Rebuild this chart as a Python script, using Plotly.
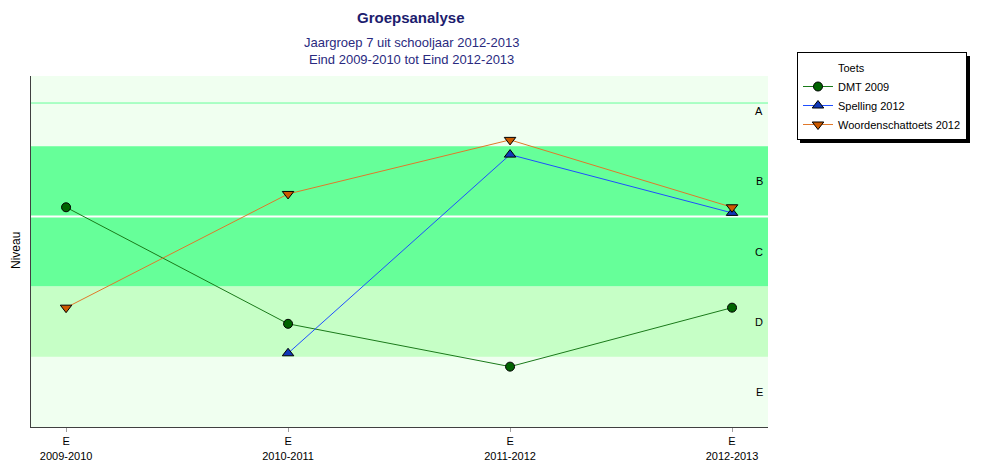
import plotly.graph_objects as go

# ---- data ----
categories = ["2009-2010", "2010-2011", "2011-2012", "2012-2013"]
tick_labels = ["E<br>2009-2010", "E<br>2010-2011", "E<br>2011-2012", "E<br>2012-2013"]
dmt_2009 = [3.13, 1.47, 0.86, 1.70]
spelling_2012 = [None, 1.05, 3.88, 3.05]
woordenschat_2012 = [1.70, 3.32, 4.09, 3.13]
level_labels = ["E", "D", "C", "B", "A"]
level_centers = [0.5, 1.5, 2.5, 3.5, 4.5]

W, H = 984, 469
ML, MR, MT, MB = 31, 216, 76, 42
PW = W - ML - MR
PH = H - MT - MB

FONT = "Arial, Liberation Sans, sans-serif"


def px_x(px):
    return (px - ML) / PW


def px_y(py):
    return (H - py - MB) / PH


fig = go.Figure()

# invisible entry used as legend heading
fig.add_trace(go.Scatter(x=[None], y=[None], mode="lines", name="Toets",
                         line=dict(width=0, color="rgba(0,0,0,0)"), hoverinfo="skip"))
fig.add_trace(go.Scatter(x=categories, y=dmt_2009, mode="lines+markers", name="DMT 2009",
                         line=dict(color="#1A7A1A", width=1),
                         marker=dict(symbol="circle", size=9, color="#006400",
                                     line=dict(color="#000000", width=1))))
fig.add_trace(go.Scatter(x=categories, y=spelling_2012, mode="lines+markers", name="Spelling 2012",
                         line=dict(color="#1F4FFF", width=1),
                         marker=dict(symbol="triangle-up", size=10, color="#1038B8",
                                     line=dict(color="#000000", width=1))))
fig.add_trace(go.Scatter(x=categories, y=woordenschat_2012, mode="lines+markers",
                         name="Woordenschattoets 2012",
                         line=dict(color="#E0782A", width=1),
                         marker=dict(symbol="triangle-down", size=10, color="#CC5A00",
                                     line=dict(color="#000000", width=1))))

shapes = [
    dict(type="rect", xref="paper", yref="y", x0=0, x1=1, y0=2, y1=4,
         fillcolor="#66FF99", line=dict(width=0), layer="below"),
    dict(type="rect", xref="paper", yref="y", x0=0, x1=1, y0=1, y1=2,
         fillcolor="#C6FFC6", line=dict(width=0), layer="below"),
    dict(type="line", xref="paper", yref="y", x0=0, x1=1, y0=3, y1=3,
         line=dict(color="#FFFFFF", width=2), layer="below"),
    dict(type="line", xref="paper", yref="y", x0=0, x1=1, y0=4.615, y1=4.615,
         line=dict(color="#66FF99", width=1), layer="below"),
    # legend drop shadow
    dict(type="rect", xref="paper", yref="paper", x0=px_x(800), x1=px_x(970),
         y0=px_y(143), y1=px_y(56), fillcolor="#000000", line=dict(width=0), layer="above"),
]

annotations = [
    dict(text="<b>Groepsanalyse</b>", xref="paper", yref="paper",
         x=px_x(411), y=px_y(17), xanchor="center", yanchor="middle",
         showarrow=False, font=dict(family=FONT, size=15, color="#1C1C6E")),
    dict(text="Jaargroep 7 uit schooljaar 2012-2013<br>Eind 2009-2010 tot Eind 2012-2013",
         xref="paper", yref="paper", x=px_x(411), y=px_y(51),
         xanchor="center", yanchor="middle", showarrow=False,
         font=dict(family=FONT, size=13, color="#2A2A80")),
    dict(text="Niveau", xref="paper", yref="paper", x=px_x(16), y=px_y(251),
         xanchor="center", yanchor="middle", textangle=-90, showarrow=False,
         font=dict(family=FONT, size=12, color="#000000")),
]
for lab, c in zip(level_labels, level_centers):
    annotations.append(dict(text=lab, xref="paper", yref="y", x=px_x(759), y=c,
                            xanchor="center", yanchor="middle", showarrow=False,
                            font=dict(family=FONT, size=11, color="#000000")))

fig.update_layout(
    width=W, height=H,
    margin=dict(l=ML, r=MR, t=MT, b=MB, pad=0, autoexpand=False),
    paper_bgcolor="#FFFFFF", plot_bgcolor="#F0FFF0",
    font=dict(family=FONT, size=11, color="#000000"),
    showlegend=True,
    legend=dict(x=px_x(797), y=px_y(52), xanchor="left", yanchor="top",
                bgcolor="#FFFFFF", bordercolor="#000000", borderwidth=1,
                font=dict(family=FONT, size=11, color="#000000"), tracegroupgap=0),
    shapes=shapes, annotations=annotations,
    xaxis=dict(type="category", range=[-0.158, 3.162], tickmode="array",
               tickvals=categories, ticktext=tick_labels, ticks="outside", ticklen=4,
               tickcolor="#A0A0A0", showgrid=False, zeroline=False, showline=True,
               linecolor="#404040", linewidth=1, automargin=False,
               tickfont=dict(size=11, family=FONT)),
    yaxis=dict(range=[0, 5], showticklabels=False, ticks="", showgrid=False, zeroline=False,
               showline=True, linecolor="#404040", linewidth=1, automargin=False),
)

fig.write_html("out.html")
